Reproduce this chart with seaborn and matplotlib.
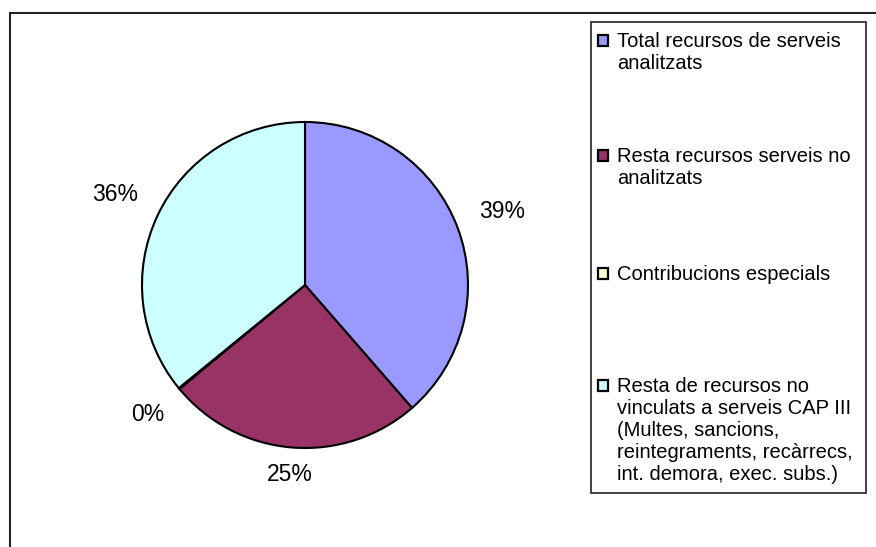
import numpy as np
import matplotlib
matplotlib.use('Agg')
import matplotlib.pyplot as plt
import seaborn as sns
from matplotlib.patches import Rectangle

# Data
categories = [
    'Total recursos de serveis\nanalitzats',
    'Resta recursos serveis no\nanalitzats',
    'Contribucions especials',
    'Resta de recursos no\nvinculats a serveis CAP III\n(Multes, sancions,\nreintegraments, recàrrecs,\nint. demora, exec. subs.)',
]
shares = [38.6, 25.4, 0.1, 35.9]
colors = ['#9999FF', '#993366', '#FFFFCC', '#CCFFFF']

sns.set_theme(style='white')
plt.rcParams['font.family'] = ['Liberation Sans', 'DejaVu Sans']

fig = plt.figure(figsize=(8.76, 5.47), dpi=100)
W, H = 876, 547

# outer chart frame (cut off at right and bottom)
fig.patches.append(Rectangle((10 / W, -0.1), 1.2, 1 - 13 / H + 0.1, transform=fig.transFigure,
                             fill=False, edgecolor='#222222', linewidth=1.5))

# pie axes: circle centre (305, 285), radius 163 px
cx, cy, r = 305, 285, 163
ax = fig.add_axes([(cx - r) / W, (H - cy - r) / H, 2 * r / W, 2 * r / H])
wedges, texts, autotexts = ax.pie(
    shares, colors=colors, startangle=90, counterclock=False,
    autopct='%1.0f%%', pctdistance=1.2,
    wedgeprops=dict(edgecolor='black', linewidth=1.5),
    textprops=dict(fontsize=16.5, color='black'))
ax.set_xlim(-1, 1)
ax.set_ylim(-1, 1)
ax.set_aspect('equal')
ax.axis('off')

# push each percentage label out so its box sits a gap off the rim
renderer = fig.canvas.get_renderer()
gap = 0.08
for w, t in zip(wedges, autotexts):
    ang = np.radians((w.theta1 + w.theta2) / 2)
    bb = t.get_window_extent(renderer)
    hw, hh = bb.width / 2 / r, bb.height / 2 / r
    d = 1 + gap + abs(np.cos(ang)) * (hw + 0.06) + abs(np.sin(ang)) * hh
    t.set_position((d * np.cos(ang), d * np.sin(ang)))

# legend box, drawn by hand to follow the original spacing
fig.patches.append(Rectangle((591 / W, 1 - 493 / H), (866 - 591) / W, (493 - 22) / H,
                             transform=fig.transFigure, fill=False,
                             edgecolor='#222222', linewidth=1.2))
baselines = [47, 162, 280, 392]
line_pitch = 22
for label, c, y0 in zip(categories, colors, baselines):
    fig.patches.append(Rectangle((597.5 / W, 1 - (y0 - 1.5) / H), 10.5 / W, 10.5 / H,
                                 transform=fig.transFigure, facecolor=c,
                                 edgecolor='black', linewidth=1.6))
    for k, line in enumerate(label.split('\n')):
        fig.text(617 / W, 1 - (y0 + k * line_pitch) / H, line,
                 fontsize=14.5, va='baseline', ha='left', color='black')

fig.savefig('out.png', dpi=100)
